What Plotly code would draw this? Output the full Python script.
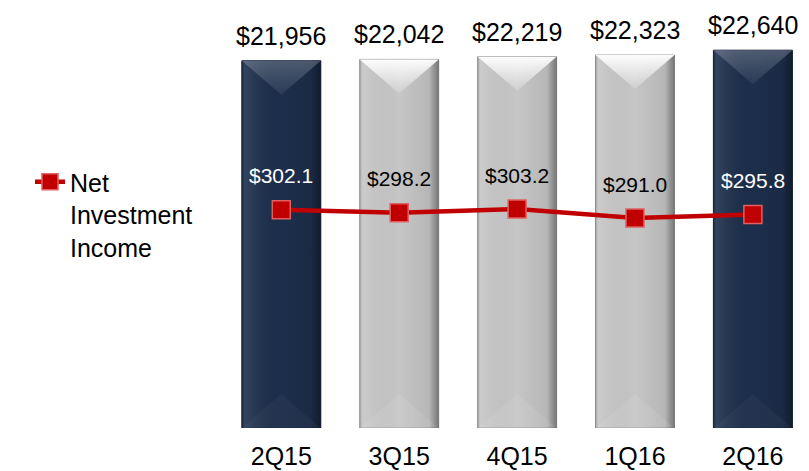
import plotly.graph_objects as go

# ---- data ----
quarters = ["2Q15", "3Q15", "4Q15", "1Q16", "2Q16"]
total_values = [21956, 22042, 22219, 22323, 22640]
total_labels = ["$21,956", "$22,042", "$22,219", "$22,323", "$22,640"]
nii_values = [302.1, 298.2, 303.2, 291.0, 295.8]
nii_labels = ["$302.1", "$298.2", "$303.2", "$291.0", "$295.8"]
highlight = [True, False, False, False, True]
series_name = "Net<br>Investment<br>Income"

# ---- styling ----
FONT = "Liberation Sans, Arial, sans-serif"
NAVY = "#1c2e4b"
GRAY = "#c6c6c6"
RED = "#c00000"
OFF = 8  # page body margin
W, H = 809 - OFF, 471 - OFF
ML, MR, MT = 222 - OFF, 0, 0
plot_w = W - ML - MR
plot_h = (428 - OFF) - MT
MB = H - MT - plot_h

px_per_cat = 117.9
x_lo = -59.3 / px_per_cat
x_hi = x_lo + plot_w / px_per_cat
units_per_px = 65.0
y_lo = -1918
y_hi = y_lo + plot_h * units_per_px
y2_per_px = 1.356
y2_hi = 303.2 + (209 - OFF) * y2_per_px
y2_lo = y2_hi - plot_h * y2_per_px

bar_w = 0.67
bevel = 34 * units_per_px

fig = go.Figure()
idx = list(range(len(quarters)))
bar_colors = [NAVY if h else GRAY for h in highlight]
line_colors = ["#15233a" if h else "#9a9a9a" for h in highlight]

fig.add_trace(go.Bar(
    x=idx, y=[v - y_lo for v in total_values], base=y_lo, width=bar_w,
    marker=dict(color=bar_colors, line=dict(color=line_colors, width=1)),
    showlegend=False, hoverinfo="skip",
))

for i, v, h in zip(idx, total_values, highlight):
    l, r = i - bar_w / 2, i + bar_w / 2
    # horizontal shading across the whole bar
    fig.add_trace(go.Scatter(
        x=[l, r, r, l, l], y=[y_lo, y_lo, v, v, y_lo], mode="none", fill="toself",
        fillgradient=dict(type="horizontal", colorscale=[
            [0, "rgba(0,0,0,0.18)"], [0.04, "rgba(255,255,255,0.10)"],
            [0.5, "rgba(0,0,0,0.0)"], [0.88, "rgba(0,0,0,0.08)"],
            [0.94, "rgba(0,0,0,0.25)"], [1, "rgba(0,0,0,0.4)"]]),
        showlegend=False, hoverinfo="skip"))
    # top bevel triangle
    top_cs = ([[0, "rgba(255,255,255,0.06)"], [1, "rgba(255,255,255,0.22)"]] if h
              else [[0, "rgba(255,255,255,0.15)"], [1, "rgba(255,255,255,0.97)"]])
    fig.add_trace(go.Scatter(
        x=[l, r, i, l], y=[v, v, v - bevel, v], mode="none", fill="toself",
        fillgradient=dict(type="vertical", colorscale=top_cs),
        showlegend=False, hoverinfo="skip"))
    # bottom bevel triangle
    fig.add_trace(go.Scatter(
        x=[l, r, i, l], y=[y_lo, y_lo, y_lo + bevel, y_lo], mode="none", fill="toself",
        fillcolor="rgba(255,255,255,0.03)" if h else "rgba(255,255,255,0.08)",
        showlegend=False, hoverinfo="skip"))

fig.add_trace(go.Scatter(
    x=idx, y=nii_values, yaxis="y2", name=series_name, mode="lines+markers",
    line=dict(color=RED, width=4.5),
    marker=dict(symbol="square", size=18, color=RED, line=dict(color="#e06060", width=1.5)),
    hoverinfo="skip",
))

annotations = []
for i, v, t in zip(idx, total_values, total_labels):
    annotations.append(dict(x=i, y=v, xref="x", yref="y", text=t, showarrow=False,
                            yanchor="middle", yshift=25,
                            font=dict(family=FONT, size=25, color="black")))
for i, v, t, h in zip(idx, nii_values, nii_labels, highlight):
    annotations.append(dict(x=i, y=v, xref="x", yref="y2", text=t, showarrow=False,
                            yanchor="middle", yshift=34,
                            font=dict(family=FONT, size=21, color="white" if h else "black")))

fig.update_layout(
    width=W, height=H,
    margin=dict(l=ML, r=MR, t=MT, b=MB),
    paper_bgcolor="white", plot_bgcolor="white",
    font=dict(family=FONT, color="black"),
    barmode="overlay",
    xaxis=dict(range=[x_lo, x_hi], tickmode="array", tickvals=idx, ticktext=quarters,
               tickfont=dict(family=FONT, size=25, color="black"),
               ticks="outside", ticklen=6, tickcolor="rgba(0,0,0,0)",
               showgrid=False, zeroline=False, showline=False, automargin=False),
    yaxis=dict(range=[y_lo, y_hi], visible=False, showgrid=False, zeroline=False),
    yaxis2=dict(range=[y2_lo, y2_hi], overlaying="y", visible=False, showgrid=False,
                zeroline=False),
    legend=dict(x=(30 - OFF - ML) / plot_w, y=1 - (159 - OFF) / plot_h,
                xanchor="left", yanchor="top",
                valign="top", font=dict(family=FONT, size=25, color="black"),
                bgcolor="rgba(0,0,0,0)", itemclick=False, itemdoubleclick=False),
    showlegend=True,
    annotations=annotations,
)

fig.write_html("out.html")
